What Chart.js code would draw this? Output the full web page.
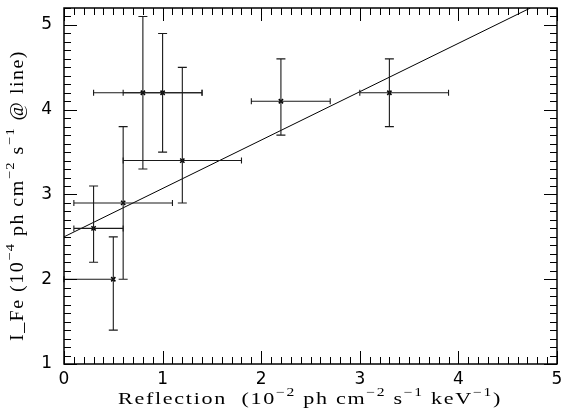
<!DOCTYPE html>
<html>
<head>
<meta charset="utf-8">
<script src="https://cdn.jsdelivr.net/npm/chart.js@4/dist/chart.umd.min.js"></script>
<style>
  html, body { margin: 0; padding: 0; background: #fff; }
  #wrap { width: 564px; height: 411px; }
</style>
</head>
<body>
<div id="wrap"><canvas id="chart" width="564" height="411"></canvas></div>
<script>
// Data points: reflection (x) vs iron line flux (y), with asymmetric error bars
const reflX = [0.3, 0.5, 0.6, 0.8, 1.0, 1.2, 2.2, 3.3];
const lineY = [2.6, 2.0, 2.9, 4.2, 4.2, 3.4, 4.1, 4.2];
const reflLo = [0.1, 0.0, 0.1, 0.3, 0.6, 0.6, 1.9, 3.0];
const reflHi = [0.6, 0.5, 1.1, 1.4, 1.4, 1.8, 2.7, 3.9];
const lineLo = [2.2, 1.4, 2.0, 3.3, 3.5, 2.9, 3.7, 3.8];
const lineHi = [3.1, 2.5, 3.8, 5.1, 4.9, 4.5, 4.6, 4.6];

// Linear fit end points
const fitX = [0, 4.73];
const fitY = [2.5, 5.2];

// Axis tick labels
const xTicks = [0, 1, 2, 3, 4, 5];
const yTicks = [1, 2, 3, 4, 5];

const SERIF = '"Liberation Serif", "DejaVu Serif", "Times New Roman", serif';

// Error bars, drawn through the chart scales
const errorBars = {
    id: 'errorBars',
    afterDatasetsDraw(chart) {
        const { ctx, scales: { x, y } } = chart;
        ctx.save();
        ctx.strokeStyle = '#1a1a1a';
        ctx.lineWidth = 1.1;
        reflX.forEach((xv, i) => {
            const px = x.getPixelForValue(xv);
            const py = y.getPixelForValue(lineY[i]);
            const xl = x.getPixelForValue(reflLo[i]);
            const xh = x.getPixelForValue(reflHi[i]);
            const yl = y.getPixelForValue(lineLo[i]);
            const yh = y.getPixelForValue(lineHi[i]);
            ctx.beginPath();
            // horizontal bar + caps
            ctx.moveTo(xl, py); ctx.lineTo(xh, py);
            ctx.moveTo(xl, py - 3); ctx.lineTo(xl, py + 3);
            ctx.moveTo(xh, py - 3); ctx.lineTo(xh, py + 3);
            // vertical bar + caps
            ctx.moveTo(px, yl); ctx.lineTo(px, yh);
            ctx.moveTo(px - 4.5, yl); ctx.lineTo(px + 4.5, yl);
            ctx.moveTo(px - 4.5, yh); ctx.lineTo(px + 4.5, yh);
            ctx.stroke();
        });
        ctx.restore();
    }
};

// Box frame with inward ticks on all four sides, plus axis titles with superscripts
const frameAndTitles = {
    id: 'frameAndTitles',
    afterDraw(chart) {
        const { ctx, chartArea: a, scales: { x, y } } = chart;
        ctx.save();
        ctx.strokeStyle = '#000';
        ctx.lineWidth = 1.5;
        ctx.strokeRect(a.left, a.top, a.right - a.left, a.bottom - a.top);

        ctx.lineWidth = 1;
        ctx.beginPath();
        for (let i = 0; i <= 50; i++) {
            const v = i / 10;
            const px = Math.round(x.getPixelForValue(v)) + 0.5;
            const len = i % 10 === 0 ? 13 : 7;
            ctx.moveTo(px, a.bottom); ctx.lineTo(px, a.bottom - len);
            ctx.moveTo(px, a.top); ctx.lineTo(px, a.top + len);
        }
        for (let i = 10; i <= 52; i++) {
            const v = i / 10;
            const py = Math.round(y.getPixelForValue(v)) + 0.5;
            const len = i % 10 === 0 ? 13 : 7;
            ctx.moveTo(a.left, py); ctx.lineTo(a.left + len, py);
            ctx.moveTo(a.right, py); ctx.lineTo(a.right - len, py);
        }
        ctx.stroke();

        ctx.fillStyle = '#000';
        const xParts = [['Reflection  (10', 0], ['\u22122', 1], [' ph cm', 0], ['\u22122', 1],
                        [' s', 0], ['\u22121', 1], [' keV', 0], ['\u22121', 1], [')', 0]];
        ctx.save();
        ctx.translate(118, 404);
        drawRich(ctx, xParts, SERIF, 17, 384, 0.55);
        ctx.restore();

        const yParts = [['I_Fe (10', 0], ['\u22124', 1], [' ph cm', 0], ['\u22122', 1],
                        [' s', 0], ['\u22121', 1], [' @ line)', 0]];
        ctx.save();
        ctx.translate(23, 341);
        ctx.rotate(-Math.PI / 2);
        drawRich(ctx, yParts, SERIF, 18, 291, 0.35);
        ctx.restore();
        ctx.restore();
    }
};

// Draws text pieces at the origin, superscripts smaller and raised; part of the extra
// width goes into stretching the glyphs, the rest into letter spacing
function drawRich(ctx, parts, family, size, target, stretchShare) {
    const supSize = Math.round(size * 0.7);
    let natural = 0, count = 0;
    parts.forEach(([t, sup]) => {
        ctx.font = `${sup ? supSize : size}px ${family}`;
        natural += ctx.measureText(t).width;
        count += t.length;
    });
    const sx = 1 + ((target / natural) - 1) * stretchShare;
    const gap = (target - natural * sx) / count;
    let cx = 0;
    ctx.textBaseline = 'alphabetic';
    ctx.textAlign = 'left';
    parts.forEach(([t, sup]) => {
        ctx.font = `${sup ? supSize : size}px ${family}`;
        for (const ch of t) {
            ctx.save();
            ctx.translate(cx, sup ? -size * 0.5 : 0);
            ctx.scale(sx, 1);
            ctx.fillText(ch, 0, 0);
            ctx.restore();
            cx += ctx.measureText(ch).width * sx + gap;
        }
    });
}

// Chart.js would pad the area for overflowing tick labels; the reference box is fixed
const noPad = (s) => { s.paddingLeft = 0; s.paddingRight = 0; s.paddingTop = 0; s.paddingBottom = 0; };

const tickFont = { family: 'DejaVu Sans', size: 17 };

function build() {
    new Chart(document.getElementById('chart'), {
        type: 'scatter',
        data: {
            datasets: [
                {
                    label: 'data',
                    data: reflX.map((v, i) => ({ x: v, y: lineY[i] })),
                    pointStyle: 'crossRot',
                    pointRadius: 3,
                    borderColor: '#000',
                    borderWidth: 1.5,
                },
                {
                    label: 'fit',
                    data: fitX.map((v, i) => ({ x: v, y: fitY[i] })),
                    showLine: true,
                    pointRadius: 0,
                    borderColor: '#000',
                    borderWidth: 1,
                },
            ],
        },
        options: {
            responsive: false,
            animation: false,
            layout: { padding: { top: 8, right: 7, left: 0, bottom: 0 } },
            plugins: { legend: { display: false }, tooltip: { enabled: false } },
            scales: {
                x: {
                    type: 'linear',
                    min: 0,
                    max: 5,
                    grid: { display: false, drawTicks: false },
                    border: { display: false },
                    afterBuildTicks: (s) => { s.ticks = xTicks.map((v) => ({ value: v })); },
                    afterFit: (s) => { s.height = 47; noPad(s); },
                    ticks: { color: '#000', font: tickFont, padding: 5, maxRotation: 0 },
                },
                y: {
                    type: 'linear',
                    min: 1,
                    max: 5.2,
                    grid: { display: false, drawTicks: false },
                    border: { display: false },
                    afterBuildTicks: (s) => { s.ticks = yTicks.map((v) => ({ value: v })); },
                    afterFit: (s) => { s.width = 64; noPad(s); },
                    ticks: { color: '#000', font: tickFont, padding: 12 },
                },
            },
        },
        plugins: [errorBars, frameAndTitles],
    });
}

Promise.all([
    document.fonts.load('17px "Liberation Serif"'),
    document.fonts.load('17px "DejaVu Sans"'),
]).then(build, build);
</script>
</body>
</html>
